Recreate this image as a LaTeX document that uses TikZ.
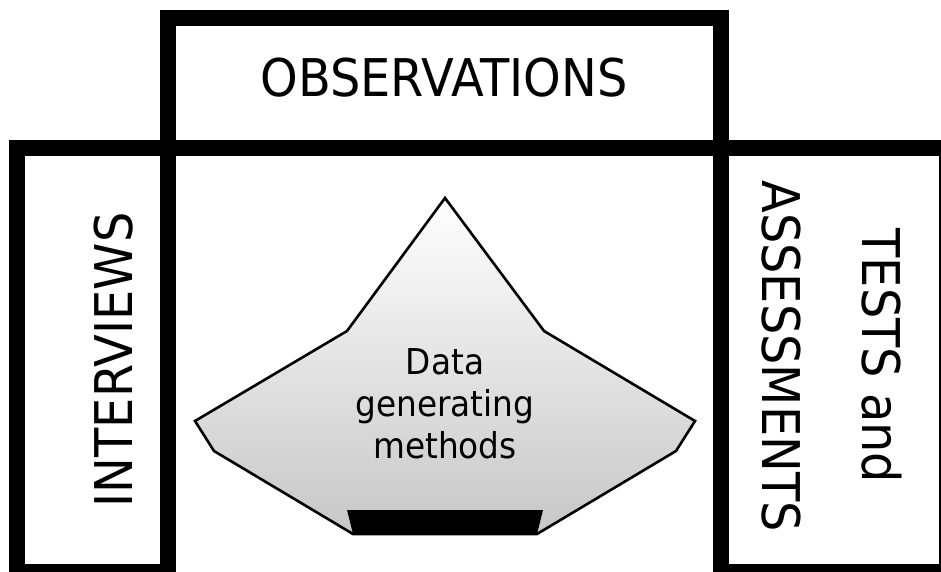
\documentclass[tikz,border=0pt]{standalone}
\usepackage{fontspec}
\setmainfont{DejaVu Sans}[FakeStretch=0.92]
\usetikzlibrary{positioning}

\begin{document}
\begin{tikzpicture}[x=1pt,y=-1pt,
      frame/.style={draw=black,line width=16pt,line join=miter},
      bigtxt/.style={inner sep=0pt,font=\fontsize{52}{60}\selectfont},
      core/.style={draw=black,line width=2.6pt,line join=miter,
                   top color=white,middle color=white,bottom color=black!22},
    ]
    \useasboundingbox (0,0) rectangle (941,572);
    \clip (0,0) rectangle (941,572);
    \fill[white] (0,0) rectangle (941,572);

    \draw[frame] (168,18) rectangle (721,148);
    \draw[frame] (17,148) rectangle (168,572);
    \draw[frame] (721,148) rectangle (947,572);

    \path[core] (445,198) -- (544,331) -- (695,421) -- (676,451) -- (537,534)
         -- (353,534) -- (214,451) -- (195,421) -- (347,331) -- cycle;
    \fill[black] (347,510) -- (543,510) -- (537,534) -- (353,534) -- cycle;

    \node[bigtxt] (obs) at (444,78) {OBSERVATIONS};
    \node[bigtxt,rotate=90] (intv) at (114,360) {INTERVIEWS};
    \node[bigtxt,rotate=-90,align=center,font=\fontsize{52}{100}\selectfont]
         (tests) at (832,356) {TESTS and\\ASSESSMENTS};
    \node[inner sep=0pt,align=center,font=\fontsize{35.6}{42}\selectfont]
         (data) at (445,404) {Data\\generating\\methods};
  \end{tikzpicture}
\end{document}
